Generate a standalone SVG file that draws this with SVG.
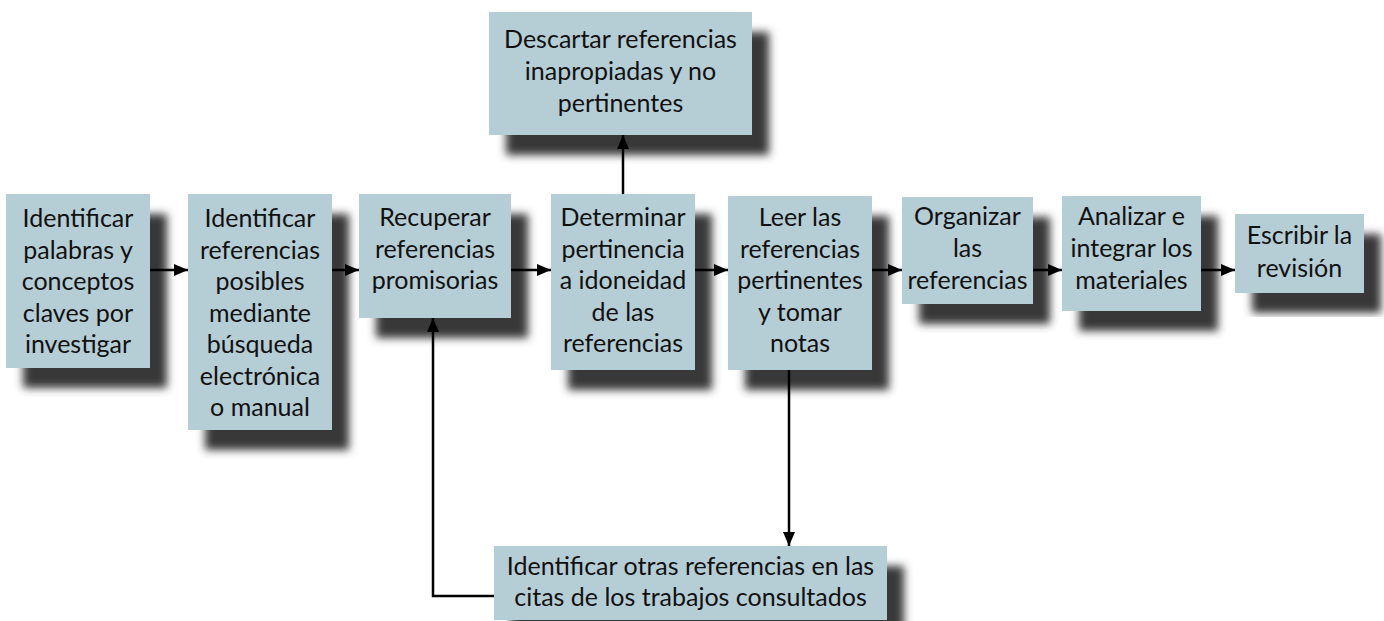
<svg xmlns="http://www.w3.org/2000/svg" width="1384" height="621" viewBox="0 0 1384 621">
<defs>
<filter id="sh" x="-20%" y="-20%" width="150%" height="150%">
<feGaussianBlur in="SourceAlpha" stdDeviation="4.5"/>
<feOffset dx="17" dy="20" result="b"/>
<feFlood flood-color="#383838"/>
<feComposite in2="b" operator="in"/>
<feMerge><feMergeNode/><feMergeNode in="SourceGraphic"/></feMerge>
</filter>
<marker id="ah" viewBox="0 0 14 12" refX="14" refY="6" markerWidth="14" markerHeight="12" markerUnits="userSpaceOnUse" orient="auto">
<path d="M0,0 L14,6 L0,12 Z" fill="#000"/>
</marker>
</defs>
<style>
.box{fill:#b5cdd5;filter:url(#sh)}
.t{font-family:Lato,"Open Sans",sans-serif;font-size:25px;fill:#111;text-anchor:middle}
.c{stroke:#000;stroke-width:2.5;fill:none;marker-end:url(#ah)}
</style>
<rect width="1384" height="621" fill="#fff"/>
<g id="n1"><rect class="box" x="6" y="194" width="144" height="174"/>
<text class="t" x="78" y="227">Identificar<tspan x="78" dy="31.5">palabras y</tspan><tspan x="78" dy="31.5">conceptos</tspan><tspan x="78" dy="31.5">claves por</tspan><tspan x="78" dy="31.5">investigar</tspan></text></g>
<g id="n2"><rect class="box" x="188" y="194" width="144" height="236"/>
<text class="t" x="260" y="227">Identificar<tspan x="260" dy="31.5">referencias</tspan><tspan x="260" dy="31.5">posibles</tspan><tspan x="260" dy="31.5">mediante</tspan><tspan x="260" dy="31.5">búsqueda</tspan><tspan x="260" dy="31.5">electrónica</tspan><tspan x="260" dy="31.5">o manual</tspan></text></g>
<g id="n3"><rect class="box" x="359" y="194" width="152" height="124"/>
<text class="t" x="435" y="226">Recuperar<tspan x="435" dy="31.5">referencias</tspan><tspan x="435" dy="31.5">promisorias</tspan></text></g>
<g id="n4"><rect class="box" x="551" y="194" width="144" height="176"/>
<text class="t" x="623" y="226">Determinar<tspan x="623" dy="31.5">pertinencia</tspan><tspan x="623" dy="31.5">a idoneidad</tspan><tspan x="623" dy="31.5">de las</tspan><tspan x="623" dy="31.5">referencias</tspan></text></g>
<g id="n5"><rect class="box" x="728" y="196" width="144" height="174"/>
<text class="t" x="800" y="226">Leer las<tspan x="800" dy="31.5">referencias</tspan><tspan x="800" dy="31.5">pertinentes</tspan><tspan x="800" dy="31.5">y tomar</tspan><tspan x="800" dy="31.5">notas</tspan></text></g>
<g id="n6"><rect class="box" x="902" y="197" width="131" height="107"/>
<text class="t" x="967.5" y="225">Organizar<tspan x="967.5" dy="32">las</tspan><tspan x="967.5" dy="32">referencias</tspan></text></g>
<g id="n7"><rect class="box" x="1062" y="196" width="139" height="115"/>
<text class="t" x="1131.5" y="225">Analizar e<tspan x="1131.5" dy="32">integrar los</tspan><tspan x="1131.5" dy="32">materiales</tspan></text></g>
<g id="n8"><rect class="box" x="1235" y="214" width="129" height="79"/>
<text class="t" x="1299.5" y="244">Escribir la<tspan x="1299.5" dy="32.5">revisión</tspan></text></g>
<g id="n9"><rect class="box" x="489" y="12" width="263" height="123"/>
<text class="t" x="620.5" y="48">Descartar referencias<tspan x="620.5" dy="32">inapropiadas y no</tspan><tspan x="620.5" dy="32">pertinentes</tspan></text></g>
<g id="n10"><rect class="box" x="494" y="546" width="393" height="74"/>
<text class="t" x="690.5" y="575">Identificar otras referencias en las<tspan x="690.5" dy="30.5">citas de los trabajos consultados</tspan></text></g>
<g id="connectors">
<line class="c" x1="150" y1="270" x2="188" y2="270"/>
<line class="c" x1="332" y1="270" x2="359" y2="270"/>
<line class="c" x1="511" y1="270" x2="551" y2="270"/>
<line class="c" x1="695" y1="270" x2="728" y2="270"/>
<line class="c" x1="872" y1="270" x2="902" y2="270"/>
<line class="c" x1="1033" y1="270" x2="1062" y2="270"/>
<line class="c" x1="1201" y1="270" x2="1235" y2="270"/>
<line class="c" x1="623" y1="194" x2="623" y2="135"/>
<line class="c" x1="789" y1="370" x2="789" y2="546"/>
<polyline class="c" points="494,596 433,596 433,318"/>
</g>
</svg>
